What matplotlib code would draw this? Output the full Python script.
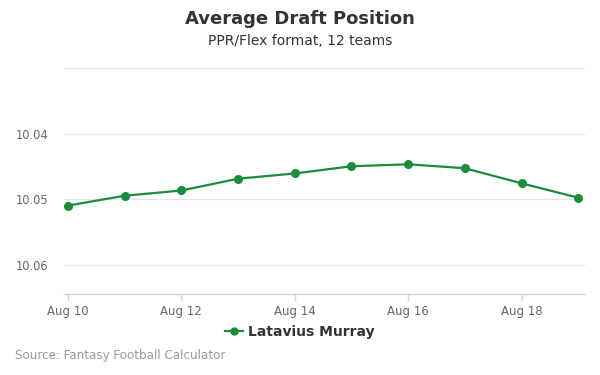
import matplotlib
matplotlib.use("Agg")
import matplotlib.pyplot as plt
import datetime as dt

dates = ["2019-08-10", "2019-08-11", "2019-08-12", "2019-08-13", "2019-08-14",
         "2019-08-15", "2019-08-16", "2019-08-17", "2019-08-18", "2019-08-19"]
adp = [10.0510, 10.0495, 10.0487, 10.0469, 10.0461,
       10.0450, 10.0447, 10.0453, 10.0476, 10.0498]
tick_dates = ["2019-08-10", "2019-08-12", "2019-08-14", "2019-08-16", "2019-08-18"]
y_ticks = [10.03, 10.04, 10.05, 10.06]
y_tick_labels = ["", "10.04", "10.05", "10.06"]
series_name = "Latavius Murray"

x = [dt.datetime.strptime(d, "%Y-%m-%d") for d in dates]
xt = [dt.datetime.strptime(d, "%Y-%m-%d") for d in tick_dates]

plt.rcParams['font.family'] = ['DejaVu Sans']
fig = plt.figure(figsize=(6, 3.75), dpi=100)
ax = fig.add_axes([64/600, 1-294/375, (585-64)/600, (294-68)/375])

green = "#1c8c3c"
ax.plot(x, adp, color=green, lw=1.6, marker="o", ms=5.5, label=series_name)

ax.set_ylim(10.0645, 10.03)
ax.set_yticks(y_ticks)
ax.set_yticklabels(y_tick_labels)
ax.grid(axis="y", color="#e6e6e6", lw=0.9)
ax.set_axisbelow(True)

x0 = x[0] - dt.timedelta(days=0.07)
x1 = x[-1] + dt.timedelta(days=0.12)
ax.set_xlim(x0, x1)
ax.set_xticks(xt)
ax.set_xticklabels([d.strftime("%b ") + str(d.day) for d in xt])

for s in ["top", "right", "left"]:
    ax.spines[s].set_visible(False)
ax.spines["bottom"].set_color("#ccd6eb")
ax.spines["bottom"].set_linewidth(1)

ax.tick_params(axis="y", length=0, labelsize=8.3, labelcolor="#666666", pad=11)
ax.tick_params(axis="x", length=5, color="#ccd6eb", width=1, labelsize=8.5,
               labelcolor="#666666", pad=3)

fig.text(0.5, 1-19/375, "Average Draft Position", ha="center", va="center",
         fontsize=13, fontweight="bold", color="#333333")
fig.text(0.5, 1-41/375, "PPR/Flex format, 12 teams", ha="center", va="center",
         fontsize=10, color="#333333")

leg = fig.legend(loc="center", bbox_to_anchor=(0.5, 1-332/375), frameon=False,
                 prop={"weight": "bold", "size": 10}, handlelength=1.3,
                 handletextpad=0.4, markerscale=0.9)
for t in leg.get_texts():
    t.set_color("#333333")

fig.text(15/600, 1-356/375, "Source: Fantasy Football Calculator", ha="left",
         va="center", fontsize=8.6, color="#999999")

fig.savefig("out.png", dpi=100)
